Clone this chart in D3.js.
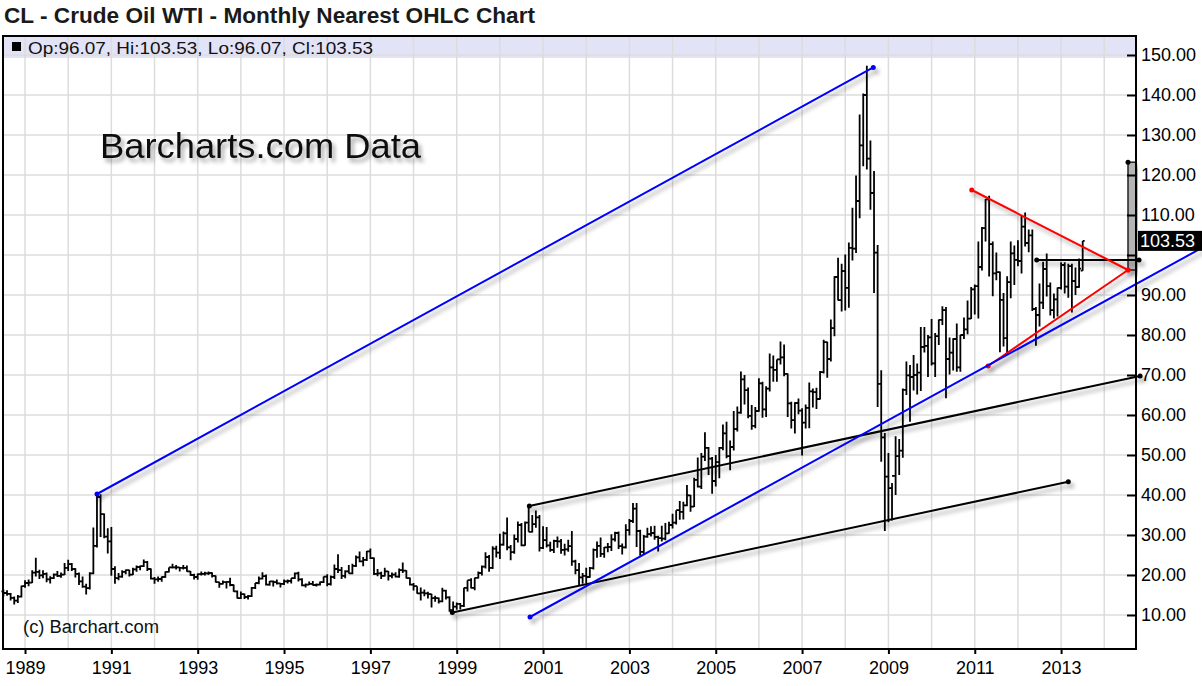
<!DOCTYPE html>
<html>
<head>
<meta charset="utf-8">
<script src="https://cdn.jsdelivr.net/npm/d3@7"></script>
<style>
  body { margin: 0; background: #fff; }
  svg { display: block; font-family: "Liberation Sans", Arial, sans-serif; }
</style>
</head>
<body>
<svg id="chart" width="1202" height="686"></svg>
<script>
'use strict';

// first bar = July 1988, one bar per month
var startYear = 1988, startMonth = 6;

var opens = [
  15.9, 15.5, 15.3, 14.3, 13.6, 14.6,                                   // 1988 (Jul-Dec)
  17.2, 18.0, 18.1, 20.6, 20.8, 19.9, 20.3, 18.9, 19.2, 20.1, 19.8, 20.1, // 1989
  21.8, 22.7, 21.5, 20.3, 18.4, 17.1, 16.7, 20.4, 27.3, 39.5, 35.2, 29.6, // 1990
  28.4, 21.5, 19.2, 19.6, 20.8, 21.2, 20.1, 21.4, 22.0, 22.2, 23.2, 21.5, // 1991
  19.1, 18.9, 19.0, 19.5, 20.8, 21.9, 21.9, 21.9, 21.8, 21.8, 20.9, 20.0, // 1992
  19.5, 20.2, 20.3, 20.4, 20.5, 19.8, 18.2, 17.8, 18.2, 18.3, 17.5, 15.9, // 1993
  14.2, 15.2, 14.5, 14.7, 16.8, 18.0, 19.1, 19.7, 17.6, 18.4, 18.2, 17.9, // 1994
  17.8, 18.4, 18.5, 19.2, 20.4, 18.9, 17.4, 17.6, 17.8, 17.5, 17.6, 18.2, // 1995
  19.6, 17.7, 19.5, 21.5, 21.2, 19.8, 20.9, 20.4, 22.3, 24.4, 23.4, 23.8, // 1996
  25.9, 24.2, 20.3, 20.4, 19.8, 20.9, 19.8, 20.1, 19.6, 21.2, 21.1, 19.2, // 1997
  17.6, 17.2, 15.4, 15.6, 15.4, 15.2, 14.2, 14.2, 13.4, 16.1, 14.4, 11.2, // 1998
  12.1, 12.8, 12.3, 16.8, 18.7, 16.8, 19.3, 20.5, 22.1, 24.5, 21.8, 26.6, // 1999
  25.6, 27.6, 30.4, 26.9, 25.7, 29.0, 32.5, 27.4, 33.1, 30.8, 32.7, 34.4, // 2000
  26.8, 28.7, 27.4, 26.3, 28.5, 28.4, 26.3, 26.4, 27.2, 23.4, 21.2, 19.4, // 2001
  19.8, 19.5, 21.7, 26.3, 27.3, 25.3, 26.9, 27.0, 28.9, 30.5, 27.2, 26.9, // 2002
  31.2, 33.5, 36.6, 31.0, 25.8, 29.6, 30.2, 30.5, 29.5, 29.2, 29.1, 30.4, // 2003
  32.5, 33.1, 36.2, 35.8, 37.4, 39.9, 37.1, 43.8, 42.1, 49.6, 51.8, 49.1, // 2004
  43.5, 48.2, 51.8, 55.4, 49.7, 52.0, 56.5, 60.6, 68.9, 66.2, 59.8, 57.3, // 2005
  61.0, 67.9, 61.4, 66.6, 71.9, 71.3, 73.9, 74.4, 70.3, 62.9, 58.7, 63.0, // 2006
  61.1, 58.1, 61.8, 65.9, 65.7, 64.0, 70.7, 78.2, 74.0, 81.7, 94.5, 88.7, // 2007
  96.0, 91.8, 101.8, 101.6, 113.5, 127.4, 140.0, 124.1, 115.5, 100.6, 67.8, 54.4, // 2008
  44.6, 41.7, 44.8, 49.7, 51.1, 66.3, 69.9, 69.5, 70.0, 70.6, 77.0, 77.3, // 2009
  79.4, 72.9, 79.7, 83.8, 86.2, 74.0, 75.6, 79.0, 71.9, 80.0, 81.4, 84.1, // 2010
  91.4, 92.2, 97.0, 106.7, 113.9, 102.7, 95.4, 95.7, 88.8, 79.2, 93.2, 100.4, // 2011
  98.8, 98.5, 107.1, 103.0, 104.9, 86.5, 85.0, 88.1, 96.5, 92.2, 86.2, 88.9, // 2012
  91.8, 97.5, 92.1, 97.2, 93.5, 92.0, 96.07                                // 2013 (Jan-Jul)
];
var highs = [
  16.4, 16.2, 15.5, 14.6, 15.0, 17.3,
  18.7, 18.9, 21.2, 24.3, 21.3, 21.2, 20.6, 19.7, 20.4, 21.0, 20.6, 23.0,
  23.8, 23.0, 21.7, 20.6, 19.6, 17.8, 20.7, 31.9, 40.4, 40.2, 35.4, 31.7,
  32.0, 22.2, 20.5, 21.2, 21.4, 21.3, 21.8, 22.4, 22.4, 23.9, 23.5, 21.6,
  19.5, 19.6, 19.6, 20.9, 21.9, 22.8, 22.5, 22.0, 22.5, 22.4, 21.0, 20.3,
  20.4, 20.9, 20.8, 20.9, 20.6, 19.9, 18.3, 18.6, 18.4, 19.3, 17.6, 16.1,
  15.9, 15.4, 15.0, 17.0, 18.0, 19.6, 20.7, 20.1, 18.5, 18.6, 18.9, 18.0,
  18.9, 18.9, 19.2, 20.6, 20.8, 19.2, 17.9, 18.4, 18.5, 17.9, 18.4, 19.6,
  20.2, 19.9, 22.6, 25.2, 22.0, 21.2, 22.5, 22.8, 24.9, 25.9, 24.5, 26.0,
  26.6, 24.4, 21.5, 20.8, 21.8, 21.0, 20.6, 20.7, 21.6, 23.1, 21.2, 19.4,
  18.0, 17.2, 16.9, 16.4, 15.8, 15.3, 14.8, 14.4, 16.8, 16.3, 14.7, 13.4,
  13.1, 13.0, 16.8, 18.7, 19.2, 19.3, 20.9, 22.4, 25.7, 25.0, 27.2, 27.3,
  30.3, 30.9, 34.4, 27.5, 30.1, 33.4, 33.0, 33.4, 37.2, 35.0, 36.1, 35.0,
  32.2, 32.0, 28.3, 28.8, 29.6, 29.0, 27.8, 28.8, 31.0, 23.8, 23.0, 20.5,
  21.8, 22.0, 26.6, 28.4, 29.4, 27.0, 28.0, 30.2, 30.8, 30.9, 27.9, 32.7,
  34.0, 38.0, 38.0, 31.3, 30.0, 31.8, 32.2, 32.3, 29.8, 32.3, 33.0, 33.3,
  35.3, 36.2, 38.5, 38.3, 42.5, 40.0, 44.3, 49.4, 50.5, 55.7, 52.0, 49.5,
  50.0, 52.0, 57.6, 58.3, 53.6, 61.0, 62.1, 70.9, 70.0, 66.9, 62.5, 62.0,
  69.2, 68.3, 67.2, 75.4, 74.9, 73.9, 78.4, 77.6, 70.4, 63.3, 63.2, 64.1,
  61.7, 62.6, 68.1, 66.6, 66.8, 71.0, 78.8, 78.3, 83.9, 94.7, 99.3, 97.8,
  100.1, 103.1, 111.8, 119.9, 135.1, 140.4, 147.3, 128.6, 121.0, 102.5, 71.2, 55.5,
  50.5, 43.0, 54.7, 54.0, 66.6, 73.4, 72.5, 75.0, 72.9, 82.0, 82.0, 80.0,
  84.0, 80.5, 83.9, 87.2, 87.0, 79.4, 79.2, 82.9, 80.0, 84.4, 88.6, 92.0,
  92.6, 103.4, 107.0, 114.0, 114.8, 103.4, 100.6, 95.9, 90.5, 94.7, 103.4, 102.4,
  103.7, 109.8, 110.6, 106.4, 106.4, 87.0, 92.9, 98.3, 100.4, 93.1, 90.4, 91.9,
  98.2, 98.2, 97.8, 97.8, 96.9, 99.1, 103.53
];
var lows = [
  14.6, 14.8, 13.6, 12.6, 13.0, 14.4,
  16.8, 17.2, 18.0, 19.6, 19.0, 19.2, 18.2, 17.9, 19.0, 19.5, 19.3, 20.0,
  21.0, 21.0, 19.4, 17.5, 16.8, 15.1, 16.4, 20.2, 26.9, 29.5, 29.2, 25.4,
  19.8, 17.8, 18.7, 19.3, 20.2, 19.6, 20.0, 20.8, 21.2, 22.0, 21.0, 18.9,
  17.8, 18.3, 18.3, 19.3, 20.6, 21.6, 21.4, 20.9, 21.4, 20.8, 19.8, 18.9,
  18.8, 19.9, 19.9, 20.0, 19.4, 18.1, 16.8, 17.6, 16.6, 17.2, 15.8, 14.1,
  14.0, 14.0, 13.9, 14.5, 16.5, 17.7, 18.9, 17.4, 17.3, 17.1, 17.6, 16.9,
  17.5, 17.9, 17.9, 19.0, 18.4, 17.2, 16.9, 17.5, 17.4, 17.1, 17.4, 18.0,
  17.2, 17.4, 19.0, 20.5, 19.0, 19.2, 20.4, 20.2, 22.0, 23.2, 22.2, 23.5,
  24.0, 20.0, 19.7, 19.0, 19.6, 18.6, 19.2, 19.4, 19.3, 20.5, 19.1, 17.4,
  16.1, 15.3, 13.6, 14.7, 14.1, 11.9, 13.3, 12.9, 13.2, 13.9, 10.8, 10.4,
  11.3, 11.4, 12.0, 15.9, 16.6, 16.2, 19.1, 19.9, 21.6, 20.8, 21.5, 24.4,
  24.0, 27.3, 26.2, 23.7, 25.3, 28.1, 27.2, 27.3, 30.8, 30.6, 31.8, 25.9,
  26.5, 26.9, 25.8, 25.5, 26.8, 25.3, 24.9, 25.8, 22.3, 20.2, 17.5, 17.8,
  17.9, 19.3, 21.4, 24.3, 24.5, 24.3, 25.7, 26.0, 28.4, 26.5, 25.1, 26.6,
  29.9, 33.0, 27.0, 24.8, 25.0, 29.3, 29.6, 28.8, 25.9, 28.4, 28.7, 30.3,
  31.6, 32.6, 33.8, 33.9, 37.2, 35.8, 37.0, 41.9, 41.5, 48.5, 45.0, 40.3,
  42.1, 44.2, 51.2, 49.2, 46.2, 51.1, 55.9, 60.3, 62.6, 59.2, 56.3, 56.7,
  60.8, 59.3, 59.5, 65.9, 68.3, 68.3, 72.6, 69.7, 59.5, 56.6, 55.4, 60.2,
  49.9, 56.6, 56.7, 61.9, 61.5, 63.9, 70.4, 69.3, 73.4, 79.7, 88.6, 85.9,
  86.1, 86.8, 98.6, 100.5, 109.2, 122.2, 121.4, 111.3, 90.5, 62.0, 48.3, 31.0,
  33.2, 33.6, 40.0, 45.0, 49.3, 65.0, 58.3, 66.1, 65.1, 66.0, 75.6, 69.5,
  72.4, 69.5, 77.5, 82.5, 64.2, 70.1, 71.1, 70.8, 70.8, 79.0, 80.2, 84.0,
  85.1, 84.1, 96.1, 103.4, 94.6, 89.7, 93.7, 75.7, 77.1, 75.0, 89.2, 92.5,
  97.2, 95.4, 102.1, 100.7, 86.0, 77.3, 82.1, 86.5, 89.6, 84.9, 84.1, 84.6,
  91.4, 90.4, 89.3, 85.6, 90.0, 91.8, 96.07
];
var closes = [
  15.5, 15.3, 14.3, 13.6, 14.6, 17.2,
  18.0, 18.1, 20.6, 20.8, 19.9, 20.3, 18.9, 19.2, 20.1, 19.8, 20.1, 21.8,
  22.7, 21.5, 20.3, 18.4, 17.1, 16.7, 20.4, 27.3, 39.5, 35.2, 29.6, 28.4,
  21.5, 19.2, 19.6, 20.8, 21.2, 20.1, 21.4, 22.0, 22.2, 23.2, 21.5, 19.1,
  18.9, 19.0, 19.5, 20.8, 21.9, 21.9, 21.9, 21.8, 21.8, 20.9, 20.0, 19.5,
  20.2, 20.3, 20.4, 20.5, 19.8, 18.2, 17.8, 18.2, 18.3, 17.5, 15.9, 14.2,
  15.2, 14.5, 14.7, 16.8, 18.0, 19.1, 19.7, 17.6, 18.4, 18.2, 17.9, 17.8,
  18.4, 18.5, 19.2, 20.4, 18.9, 17.4, 17.6, 17.8, 17.5, 17.6, 18.2, 19.6,
  17.7, 19.5, 21.5, 21.2, 19.8, 20.9, 20.4, 22.3, 24.4, 23.4, 23.8, 25.9,
  24.2, 20.3, 20.4, 19.8, 20.9, 19.8, 20.1, 19.6, 21.2, 21.1, 19.2, 17.6,
  17.2, 15.4, 15.6, 15.4, 15.2, 14.2, 14.2, 13.4, 16.1, 14.4, 11.2, 12.1,
  12.8, 12.3, 16.8, 18.7, 16.8, 19.3, 20.5, 22.1, 24.5, 21.8, 26.6, 25.6,
  27.6, 30.4, 26.9, 25.7, 29.0, 32.5, 27.4, 33.1, 30.8, 32.7, 34.4, 26.8,
  28.7, 27.4, 26.3, 28.5, 28.4, 26.3, 26.4, 27.2, 23.4, 21.2, 19.4, 19.8,
  19.5, 21.7, 26.3, 27.3, 25.3, 26.9, 27.0, 28.9, 30.5, 27.2, 26.9, 31.2,
  33.5, 36.6, 31.0, 25.8, 29.6, 30.2, 30.5, 29.5, 29.2, 29.1, 30.4, 32.5,
  33.1, 36.2, 35.8, 37.4, 39.9, 37.1, 43.8, 42.1, 49.6, 51.8, 49.1, 43.5,
  48.2, 51.8, 55.4, 49.7, 52.0, 56.5, 60.6, 68.9, 66.2, 59.8, 57.3, 61.0,
  67.9, 61.4, 66.6, 71.9, 71.3, 73.9, 74.4, 70.3, 62.9, 58.7, 63.0, 61.1,
  58.1, 61.8, 65.9, 65.7, 64.0, 70.7, 78.2, 74.0, 81.7, 94.5, 88.7, 96.0,
  91.8, 101.8, 101.6, 113.5, 127.4, 140.0, 124.1, 115.5, 100.6, 67.8, 54.4, 44.6,
  41.7, 44.8, 49.7, 51.1, 66.3, 69.9, 69.5, 70.0, 70.6, 77.0, 77.3, 79.4,
  72.9, 79.7, 83.8, 86.2, 74.0, 75.6, 79.0, 71.9, 80.0, 81.4, 84.1, 91.4,
  92.2, 97.0, 106.7, 113.9, 102.7, 95.4, 95.7, 88.8, 79.2, 93.2, 100.4, 98.8,
  98.5, 107.1, 103.0, 104.9, 86.5, 85.0, 88.1, 96.5, 92.2, 86.2, 88.9, 91.8,
  97.5, 92.1, 97.2, 93.5, 92.0, 96.6, 103.53
];

// axes
var yTicks  = [10, 20, 30, 40, 50, 60, 70, 80, 90, 100, 110, 120, 130, 140, 150];
var yLabels = [10, 20, 30, 40, 50, 60, 70, 80, 90, 110, 120, 130, 140, 150]; // 100 hidden by last-price tag
var gridYears  = d3.range(1989, 2015);
var labelYears = [1989, 1991, 1993, 1995, 1997, 1999, 2001, 2003, 2005, 2007, 2009, 2011, 2013];
var lastPrice = 103.53;

// hand-drawn trend lines, [decimal year, price]
var blueLines  = [ [[1990.668, 40.25], [2008.650, 146.9]],
                   [[2000.698, 9.5],   [2016.400, 102.6]] ];
var blackLines = [ [[1998.898, 10.6],  [2013.167, 43.3]],
                   [[2000.682, 37.25], [2014.830, 69.75]],
                   [[2012.435, 98.75], [2014.805, 98.75]] ];
var redLines   = [ [[2010.930, 116.25], [2014.550, 96.25]],
                   [[2011.310, 72.25],  [2014.550, 96.25]] ];
// gray projection box beside the price axis: [start year, top price, bottom price]
var projBox = [2014.550, 123.2, 96.25];

// chart size
var W = 1202, H = 686;
var plot = { left: 3, right: 1136, top: 36, bottom: 649 };

var svg = d3.select('#chart');

var defs = svg.append('defs');
defs.append('filter').attr('id', 'shadow')
  .attr('x', '-10%').attr('y', '-10%').attr('width', '130%').attr('height', '130%')
  .append('feDropShadow')
  .attr('dx', 3).attr('dy', 4).attr('stdDeviation', 2)
  .attr('flood-color', '#000').attr('flood-opacity', 0.35);

var x = d3.scaleLinear().domain([1988.49, 2014.735]).range([plot.left, plot.right]);
var y = d3.scaleLinear().domain([1.5, 154.75]).range([plot.bottom, plot.top]);

// title
svg.append('text')
  .attr('x', 4).attr('y', 23)
  .attr('font-size', 22).attr('font-weight', 'bold').attr('fill', '#1a1a1a')
  .attr('textLength', 531).attr('lengthAdjust', 'spacingAndGlyphs')
  .text('CL - Crude Oil WTI - Monthly Nearest OHLC Chart');

// info band
svg.append('rect')
  .attr('x', plot.left + 1).attr('y', plot.top + 1)
  .attr('width', plot.right - plot.left - 2).attr('height', 21)
  .attr('fill', '#e3e3f8');

// grid
var grid = svg.append('g').attr('stroke', '#dcdcdc').attr('stroke-width', 1.5);
grid.selectAll('line.gy').data(yTicks).enter().append('line')
  .attr('x1', plot.left).attr('x2', plot.right)
  .attr('y1', function(d){ return y(d); }).attr('y2', function(d){ return y(d); });
grid.selectAll('line.gx').data(gridYears).enter().append('line')
  .attr('y1', plot.top).attr('y2', plot.bottom)
  .attr('x1', function(d){ return x(d); }).attr('x2', function(d){ return x(d); });

// OHLC bars
var bars = opens.map(function(o, i){
  return { t: startYear + (startMonth + i) / 12, o: o, h: highs[i], l: lows[i], c: closes[i] };
});
var tk = 2;
svg.append('g').selectAll('path').data(bars).enter().append('path')
  .attr('fill', 'none').attr('stroke', '#000').attr('stroke-width', 1.8)
  .attr('d', function(d){
    var cx = x(d.t);
    return 'M' + cx + ',' + y(d.h) + 'V' + y(d.l) +
           'M' + (cx - tk) + ',' + y(d.o) + 'H' + cx +
           'M' + cx + ',' + y(d.c) + 'H' + (cx + tk);
  });

// projection box
svg.append('rect')
  .attr('x', x(projBox[0])).attr('y', y(projBox[1]))
  .attr('width', plot.right - x(projBox[0])).attr('height', y(projBox[2]) - y(projBox[1]))
  .attr('fill', '#b4b4b4').attr('stroke', '#222').attr('stroke-width', 1.5)
  .attr('filter', 'url(#shadow)');
svg.append('circle')
  .attr('cx', x(projBox[0])).attr('cy', y(projBox[1])).attr('r', 2.5).attr('fill', '#000');

// trend lines
function drawLines(data, color, width){
  var g = svg.append('g').attr('filter', 'url(#shadow)');
  g.selectAll('line').data(data).enter().append('line')
    .attr('x1', function(d){ return x(d[0][0]); }).attr('y1', function(d){ return y(d[0][1]); })
    .attr('x2', function(d){ return x(d[1][0]); }).attr('y2', function(d){ return y(d[1][1]); })
    .attr('stroke', color).attr('stroke-width', width);
  var pts = [];
  data.forEach(function(d){ pts.push(d[0], d[1]); });
  g.selectAll('circle').data(pts).enter().append('circle')
    .attr('cx', function(d){ return x(d[0]); }).attr('cy', function(d){ return y(d[1]); })
    .attr('r', 2.5).attr('fill', color);
}
drawLines(blackLines, '#000', 2);
drawLines(redLines, '#f00', 2);
drawLines(blueLines, '#00f', 2);

// frame
svg.append('rect')
  .attr('x', plot.left).attr('y', plot.top)
  .attr('width', plot.right - plot.left).attr('height', plot.bottom - plot.top)
  .attr('fill', 'none').attr('stroke', '#000').attr('stroke-width', 2);

// info text
svg.append('rect').attr('x', 12).attr('y', 42).attr('width', 9).attr('height', 9).attr('fill', '#000');
svg.append('text')
  .attr('x', 28).attr('y', 53.5).attr('font-size', 16).attr('fill', '#111')
  .attr('textLength', 345).attr('lengthAdjust', 'spacingAndGlyphs')
  .text('Op:96.07, Hi:103.53, Lo:96.07, Cl:103.53');

// watermark
svg.append('text')
  .attr('x', 100).attr('y', 158).attr('font-size', 35).attr('fill', '#111')
  .attr('textLength', 321).attr('lengthAdjust', 'spacingAndGlyphs')
  .attr('filter', 'url(#shadow)')
  .text('Barcharts.com Data');

svg.append('text')
  .attr('x', 23).attr('y', 633).attr('font-size', 18).attr('fill', '#111')
  .attr('textLength', 136).attr('lengthAdjust', 'spacingAndGlyphs')
  .text('(c) Barchart.com');

// y axis: ticks inside, labels outside
var yTickAxis = svg.append('g')
  .attr('transform', 'translate(' + plot.right + ',0)')
  .call(d3.axisLeft(y).tickValues(yTicks).tickSize(9).tickFormat(''));
yTickAxis.select('.domain').remove();
yTickAxis.selectAll('line').attr('stroke', '#000').attr('stroke-width', 2);

var yLabelAxis = svg.append('g')
  .attr('transform', 'translate(' + plot.right + ',0)')
  .call(d3.axisRight(y).tickValues(yLabels).tickSize(0).tickPadding(5).tickFormat(d3.format('.2f')));
yLabelAxis.select('.domain').remove();
yLabelAxis.selectAll('text')
  .attr('font-size', 18).attr('font-family', '"Liberation Sans", Arial, sans-serif').attr('fill', '#000');

// x axis
var xAxis = svg.append('g')
  .attr('transform', 'translate(0,' + plot.bottom + ')')
  .call(d3.axisBottom(x).tickValues(labelYears).tickSize(5).tickPadding(7).tickFormat(d3.format('d')));
xAxis.select('.domain').remove();
xAxis.selectAll('line').attr('stroke', '#000').attr('stroke-width', 2);
xAxis.selectAll('text')
  .attr('font-size', 18).attr('font-family', '"Liberation Sans", Arial, sans-serif').attr('fill', '#000');

// last price tag
svg.append('rect')
  .attr('x', plot.right + 2).attr('y', y(lastPrice) - 10)
  .attr('width', W - plot.right - 2).attr('height', 20).attr('fill', '#000');
svg.append('text')
  .attr('x', plot.right + 4).attr('y', y(lastPrice)).attr('dy', '0.36em')
  .attr('font-size', 18).attr('fill', '#fff')
  .text(d3.format('.2f')(lastPrice));
</script>
</body>
</html>
